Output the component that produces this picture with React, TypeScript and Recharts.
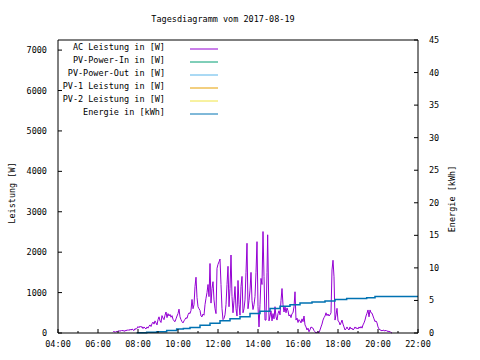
import { LineChart, Line, XAxis, YAxis } from 'recharts'

const title = 'Tagesdiagramm vom 2017-08-19'
const leftLabel = 'Leistung [W]'
const rightLabel = 'Energie [kWh]'

const hourTicks = [4, 5, 6, 7, 8, 9, 10, 11, 12, 13, 14, 15, 16, 17, 18, 19, 20, 21, 22]
const wattTicks = [0, 1000, 2000, 3000, 4000, 5000, 6000, 7000]
const kwhTicks = [0, 5, 10, 15, 20, 25, 30, 35, 40, 45]

const legendNames = [
  'AC Leistung in [W]',
  'PV-Power-In in [W]',
  'PV-Power-Out in [W]',
  'PV-1 Leistung in [W]',
  'PV-2 Leistung in [W]',
  'Energie in [kWh]',
]
const legendColors = ['#9400d3', '#009e73', '#56b4e9', '#e69f00', '#f0e442', '#0072b2']

// AC Leistung [W]
const acLeistung: [string, number][] = [
  ['06:45', 20], ['06:48', 45], ['06:51', 15], ['06:54', 40], ['06:57', 30], ['07:00', 55],
  ['07:03', 40], ['07:06', 60], ['07:09', 45], ['07:12', 70], ['07:15', 50], ['07:18', 60],
  ['07:21', 40], ['07:24', 75], ['07:27', 55], ['07:30', 85], ['07:33', 60], ['07:36', 95],
  ['07:39', 70], ['07:42', 100], ['07:45', 80], ['07:48', 60], ['07:51', 110], ['07:54', 90],
  ['07:57', 120], ['08:00', 160], ['08:03', 130], ['08:06', 170], ['08:09', 140], ['08:12', 160],
  ['08:15', 110], ['08:18', 150], ['08:21', 120], ['08:24', 100], ['08:27', 150], ['08:30', 120],
  ['08:33', 170], ['08:36', 200], ['08:39', 160], ['08:42', 230], ['08:45', 270], ['08:48', 220],
  ['08:51', 300], ['08:54', 250], ['08:57', 200], ['09:00', 330], ['09:03', 400], ['09:06', 300],
  ['09:09', 260], ['09:12', 430], ['09:15', 370], ['09:18', 330], ['09:21', 440], ['09:24', 520],
  ['09:27', 380], ['09:30', 480], ['09:33', 420], ['09:36', 460], ['09:39', 390], ['09:42', 430],
  ['09:45', 340], ['09:48', 300], ['09:51', 280], ['09:54', 350], ['09:57', 420], ['10:00', 480],
  ['10:03', 590], ['10:06', 400], ['10:09', 330], ['10:12', 280], ['10:15', 250], ['10:18', 300],
  ['10:21', 340], ['10:24', 380], ['10:27', 360], ['10:30', 450], ['10:33', 500], ['10:36', 480],
  ['10:39', 560], ['10:42', 830], ['10:45', 600], ['10:48', 700], ['10:51', 1150], ['10:54', 1380],
  ['10:57', 880], ['11:00', 650], ['11:03', 600], ['11:06', 560], ['11:09', 420], ['11:12', 400],
  ['11:15', 470], ['11:18', 440], ['11:21', 700], ['11:24', 860], ['11:27', 1000], ['11:30', 1200],
  ['11:33', 900], ['11:36', 1720], ['11:39', 740], ['11:42', 1100], ['11:45', 1270], ['11:48', 820],
  ['11:51', 600], ['11:54', 480], ['11:57', 1600], ['12:00', 1700], ['12:03', 1760], ['12:06', 1830],
  ['12:09', 1200], ['12:12', 600], ['12:15', 330], ['12:18', 360], ['12:21', 450], ['12:24', 700],
  ['12:27', 1200], ['12:30', 1650], ['12:33', 650], ['12:36', 1100], ['12:39', 1930], ['12:42', 900],
  ['12:45', 500], ['12:48', 800], ['12:51', 1150], ['12:54', 600], ['12:57', 420], ['13:00', 1300],
  ['13:03', 700], ['13:06', 440], ['13:09', 1150], ['13:12', 1400], ['13:15', 500], ['13:18', 600],
  ['13:21', 820], ['13:24', 1500], ['13:27', 2220], ['13:30', 600], ['13:33', 800], ['13:36', 1060],
  ['13:39', 1500], ['13:42', 800], ['13:45', 580], ['13:48', 700], ['13:51', 900], ['13:54', 1500],
  ['13:57', 2260], ['14:00', 650], ['14:03', 150], ['14:06', 700], ['14:09', 1350], ['14:12', 1200],
  ['14:15', 2510], ['14:18', 1400], ['14:21', 320], ['14:24', 320], ['14:27', 1500], ['14:29', 2430],
  ['14:33', 300], ['14:36', 420], ['14:39', 550], ['14:42', 300], ['14:45', 480], ['14:48', 350],
  ['14:51', 650], ['14:54', 400], ['14:57', 320], ['15:00', 480], ['15:03', 550], ['15:06', 450],
  ['15:09', 800], ['15:12', 1100], ['15:15', 700], ['15:18', 520], ['15:21', 650], ['15:24', 500],
  ['15:27', 620], ['15:30', 550], ['15:33', 420], ['15:36', 450], ['15:39', 380], ['15:42', 480],
  ['15:45', 500], ['15:48', 650], ['15:51', 1020], ['15:54', 320], ['15:57', 370], ['16:00', 260],
  ['16:03', 330], ['16:06', 300], ['16:09', 250], ['16:12', 350], ['16:15', 280], ['16:18', 420],
  ['16:21', 200], ['16:24', 150], ['16:27', 75], ['16:30', 120], ['16:33', 30], ['16:36', 80],
  ['16:39', 150], ['16:42', 130], ['16:45', 120], ['16:48', 60], ['16:51', 30], ['16:54', 0],
  ['16:57', 20], ['17:00', 30], ['17:03', 10], ['17:06', 75], ['17:09', 150], ['17:12', 220],
  ['17:15', 320], ['17:18', 380], ['17:21', 420], ['17:24', 500], ['17:27', 430], ['17:30', 470],
  ['17:33', 420], ['17:36', 450], ['17:39', 500], ['17:42', 1560], ['17:45', 1800], ['17:48', 1390],
  ['17:51', 320], ['17:54', 450], ['17:57', 610], ['18:00', 300], ['18:03', 280], ['18:06', 200],
  ['18:09', 250], ['18:12', 320], ['18:15', 220], ['18:18', 150], ['18:21', 75], ['18:24', 100],
  ['18:27', 150], ['18:30', 100], ['18:33', 75], ['18:36', 150], ['18:39', 100], ['18:42', 120],
  ['18:45', 75], ['18:48', 100], ['18:51', 150], ['18:54', 110], ['18:57', 130], ['19:00', 100],
  ['19:03', 150], ['19:06', 120], ['19:09', 160], ['19:12', 120], ['19:15', 200], ['19:18', 250],
  ['19:21', 320], ['19:24', 420], ['19:27', 490], ['19:30', 570], ['19:33', 400], ['19:36', 570],
  ['19:39', 500], ['19:42', 490], ['19:45', 420], ['19:48', 350], ['19:51', 280], ['19:54', 300],
  ['19:57', 250], ['20:00', 150], ['20:03', 100], ['20:06', 75], ['20:09', 70], ['20:12', 50],
  ['20:15', 75], ['20:18', 60], ['20:21', 50], ['20:24', 70], ['20:27', 40], ['20:30', 50],
  ['20:33', 30], ['20:36', 40], ['20:39', 10], ['20:42', 0],
]

// Energie [kWh]
const energie: [string, number][] = [
  ['07:56', 0.05], ['08:26', 0.1], ['08:56', 0.2], ['09:26', 0.4], ['09:56', 0.6], ['10:16', 0.7],
  ['10:36', 0.85], ['11:06', 1.2], ['11:36', 1.5], ['12:06', 1.9], ['12:36', 2.2], ['13:06', 2.5],
  ['13:36', 3.0], ['14:06', 3.35], ['14:36', 3.75], ['15:06', 4.1], ['15:36', 4.35], ['16:06', 4.6],
  ['16:42', 4.75], ['17:21', 4.9], ['17:51', 5.15], ['18:26', 5.3], ['19:26', 5.4], ['19:51', 5.6],
  ['22:00', 5.6],
]

const toHours = (t: string) => {
  const [h, m] = t.split(':').map(Number)
  return h + m / 60
}
const hourLabel = (v: number) => `${String(v).padStart(2, '0')}:00`

const acData = acLeistung.map(([t, w]) => ({ h: toHours(t), w }))
const energyData = energie.map(([t, e]) => ({ h: toHours(t), e }))

const font = { fontFamily: "'DejaVu Sans Mono', monospace", fontSize: 8.5, fill: '#000' }

function BottomTick({ x, y, payload }: any) {
  const major = payload.value % 2 === 0
  return (
    <g>
      <line x1={x} x2={x} y1={y} y2={y - (major ? 4 : 2)} stroke="#000" />
      {major && (
        <text x={x} y={y + 11} textAnchor="middle" dominantBaseline="central" {...font}>
          {hourLabel(payload.value)}
        </text>
      )}
    </g>
  )
}

function TopTick({ x, y, payload }: any) {
  const major = payload.value % 2 === 0
  return <line x1={x} x2={x} y1={y} y2={y + (major ? 4 : 2)} stroke="#000" />
}

function LeftTick({ x, y, payload }: any) {
  return (
    <g>
      <line x1={x} x2={x + 4} y1={y} y2={y} stroke="#000" />
      <text x={x - 11} y={y} textAnchor="end" dominantBaseline="central" {...font}>
        {payload.value}
      </text>
    </g>
  )
}

function RightTick({ x, y, payload }: any) {
  return (
    <g>
      <line x1={x} x2={x - 4} y1={y} y2={y} stroke="#000" />
      <text x={x + 11} y={y} textAnchor="start" dominantBaseline="central" {...font}>
        {payload.value}
      </text>
    </g>
  )
}

function MirrorTick({ x, y }: any) {
  return <line x1={x} x2={x - 4} y1={y} y2={y} stroke="#000" />
}

export default function App() {
  return (
    <div style={{ position: 'absolute', left: 0, top: 0, width: 480, height: 360, background: '#fff' }}>
      <LineChart width={480} height={360} margin={{ top: 39, right: 0, bottom: 0, left: 0 }}>
        <XAxis
          xAxisId="x"
          type="number"
          dataKey="h"
          domain={[4, 22]}
          ticks={hourTicks}
          height={27}
          tickSize={0}
          tickMargin={0}
          tickLine={false}
          tick={BottomTick}
          axisLine={{ stroke: '#000' }}
          interval={0}
        />
        <XAxis
          xAxisId="top"
          orientation="top"
          type="number"
          dataKey="h"
          domain={[4, 22]}
          ticks={hourTicks}
          height={1}
          tickSize={0}
          tickMargin={0}
          tickLine={false}
          tick={TopTick}
          axisLine={{ stroke: '#000' }}
          interval={0}
        />
        <YAxis
          yAxisId="w"
          type="number"
          domain={[0, 7250]}
          ticks={wattTicks}
          width={58}
          tickSize={0}
          tickMargin={0}
          tickLine={false}
          tick={LeftTick}
          axisLine={{ stroke: '#000' }}
          interval={0}
        />
        <YAxis
          yAxisId="kwh"
          orientation="right"
          type="number"
          domain={[0, 45]}
          ticks={kwhTicks}
          width={62}
          tickSize={0}
          tickMargin={0}
          tickLine={false}
          tick={RightTick}
          axisLine={{ stroke: '#000' }}
          interval={0}
        />
        <YAxis
          yAxisId="wMirror"
          orientation="right"
          mirror
          type="number"
          domain={[0, 7250]}
          ticks={wattTicks}
          width={0}
          tickSize={0}
          tickMargin={0}
          tickLine={false}
          tick={MirrorTick}
          axisLine={false}
          interval={0}
        />
        <Line
          xAxisId="x"
          yAxisId="w"
          data={acData}
          dataKey="w"
          type="linear"
          stroke={legendColors[0]}
          strokeWidth={1}
          dot={false}
          isAnimationActive={false}
        />
        <Line
          xAxisId="x"
          yAxisId="kwh"
          data={energyData}
          dataKey="e"
          type="stepAfter"
          stroke={legendColors[5]}
          strokeWidth={1.5}
          dot={false}
          isAnimationActive={false}
        />
      </LineChart>
      <svg width={480} height={360} style={{ position: 'absolute', left: 0, top: 0, pointerEvents: 'none' }}>
        <text x={223} y={19} textAnchor="middle" dominantBaseline="central" {...font}>
          {title}
        </text>
        <text x={12} y={193} textAnchor="middle" dominantBaseline="central" transform="rotate(-90 12 193)" {...font}>
          {leftLabel}
        </text>
        <text x={452} y={199} textAnchor="middle" dominantBaseline="central" transform="rotate(-90 452 199)" {...font}>
          {rightLabel}
        </text>
        {legendNames.map((name, i) => (
          <g key={name}>
            <text x={165} y={47 + 13 * i} textAnchor="end" dominantBaseline="central" {...font}>
              {name}
            </text>
            <line x1={190} x2={218} y1={49 + 13 * i} y2={49 + 13 * i} stroke={legendColors[i]} strokeWidth={1} />
          </g>
        ))}
      </svg>
    </div>
  )
}
